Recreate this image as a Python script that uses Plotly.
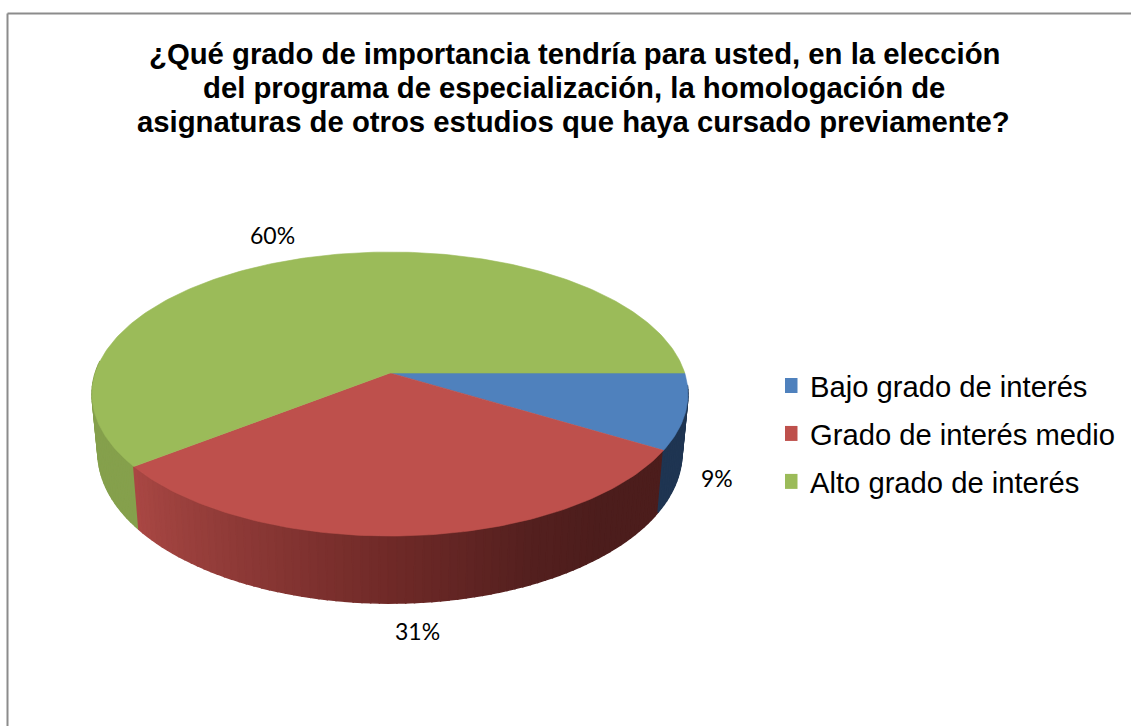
import numpy as np
import plotly.graph_objects as go

# ---- data ----
categories = ["Bajo grado de interés", "Grado de interés medio", "Alto grado de interés"]
values = [8.6, 30.91, 60.49]
top_colors = ["#4F81BD", "#BE504C", "#9BBB59"]
title_lines = [
    "¿Qué grado de importancia tendría para usted, en la elección",
    "del programa de especialización, la homologación de",
    "asignaturas de otros estudios que haya cursado previamente?",
]

# ---- perspective of the pie (pixels of the 1131x726 canvas) ----
CX, CY = 390.0, 373.0
A, B, C = 294.7, 138.9, 0.148
K_X, K_Y, BOTTOM_Y0, BOTTOM_REF = 0.98, 1.06, 513.0, 451.0
STEP = 1.5
LEFT_LIMIT = -185.0
RIGHT_LIMIT = -5.0


def top_xy(deg):
    t = np.radians(deg)
    u, v = np.cos(t), np.sin(t)
    d = 1 + C * v
    return CX + A * u / d, CY - B * v / d


def bottom_xy(deg):
    x, y = top_xy(deg)
    return CX + (x - CX) * K_X, BOTTOM_Y0 + K_Y * (y - BOTTOM_REF)


def mix(stops, t):
    xs = [s[0] for s in stops]
    return "rgb(%d,%d,%d)" % tuple(np.interp(t, xs, [s[1][i] for s in stops]) for i in range(3))


wall_stops = [
    [(-360, (31, 53, 82)), (360, (31, 53, 82))],
    [(-142, (170, 72, 68)), (-120, (146, 60, 57)), (-90, (112, 42, 40)),
     (-65, (84, 32, 31)), (-50, (76, 29, 28)), (0, (76, 29, 28))],
    [(-360, (133, 160, 76)), (360, (133, 160, 76))],
]

fig = go.Figure()
edges = -np.cumsum([0] + values) * 3.6

# side walls
for i in [2, 1, 0]:
    start, end = edges[i + 1], edges[i]
    start = max(start, LEFT_LIMIT)
    end = min(end, RIGHT_LIMIT)
    if end <= start:
        continue
    n = max(int(np.ceil((end - start) / STEP)), 1)
    ang = np.linspace(start, end, n + 1)
    for a0, a1 in zip(ang[:-1], ang[1:]):
        x0, y0 = top_xy(a0)
        x1, y1 = top_xy(a1)
        x2, y2 = bottom_xy(a1)
        x3, y3 = bottom_xy(a0)
        col = mix(wall_stops[i], (a0 + a1) / 2)
        fig.add_trace(go.Scatter(
            x=[x0, x1, x2, x3, x0], y=[y0, y1, y2, y3, y0],
            mode="lines", fill="toself", fillcolor=col,
            line=dict(color=col, width=1.5), hoverinfo="skip", showlegend=False))

# top surface
for i, name in enumerate(categories):
    ang = np.linspace(edges[i + 1], edges[i], int(values[i] * 3.6) + 2)
    ax, ay = top_xy(ang)
    fig.add_trace(go.Scatter(
        x=[CX, *ax, CX], y=[CY, *ay, CY],
        mode="lines", fill="toself", fillcolor=top_colors[i],
        line=dict(color=top_colors[i], width=0.6),
        name=name, hoverinfo="name", showlegend=False))

# legend entries
for i, name in enumerate(categories):
    fig.add_trace(go.Scatter(
        x=[None], y=[None], mode="markers", name=name, legendgroup=name,
        marker=dict(symbol="square", size=15, color=top_colors[i])))

FONT = "Liberation Sans, Arial, sans-serif"

# percentage labels
label_pos = [(717, 478), (417, 631), (272, 235)]
for v, (lx, ly) in zip(values, label_pos):
    fig.add_annotation(x=lx, y=ly, xref="x", yref="y", text=f"{round(v)}%", showarrow=False,
                       font=dict(family="Lato, Carlito, sans-serif", size=23, color="#000000"))

# chart title, one line at a time
title_pos = [(574, 53), (574, 87.5), (573, 121.5)]
for line, (tx, ty) in zip(title_lines, title_pos):
    fig.add_annotation(x=tx, y=ty, xref="x", yref="y", text=line, showarrow=False,
                       font=dict(family=FONT, size=29.3, color="#000000", weight="bold"))

fig.update_layout(
    width=1131, height=726,
    margin=dict(l=0, r=0, t=0, b=0),
    paper_bgcolor="#FFFFFF", plot_bgcolor="#FFFFFF",
    xaxis=dict(range=[0, 1131], visible=False, fixedrange=True),
    yaxis=dict(range=[726, 0], visible=False, fixedrange=True),
    legend=dict(x=785 / 1131, y=1 - 360 / 726, xanchor="left", yanchor="top",
                font=dict(family=FONT, size=29.2, color="#000000"),
                bgcolor="rgba(0,0,0,0)", tracegroupgap=7, indentation=-15),
    shapes=[
        dict(type="line", xref="x", yref="y", x0=7.5, x1=7.5, y0=726, y1=13.5,
             line=dict(color="#8C8C8C", width=2)),
        dict(type="line", xref="x", yref="y", x0=7.5, x1=1131, y0=13.5, y1=13.5,
             line=dict(color="#8C8C8C", width=2)),
    ],
)
fig.write_html("out.html", config={"displayModeBar": False},
               post_script="document.body.style.margin='0';document.documentElement.style.overflow='hidden';")
